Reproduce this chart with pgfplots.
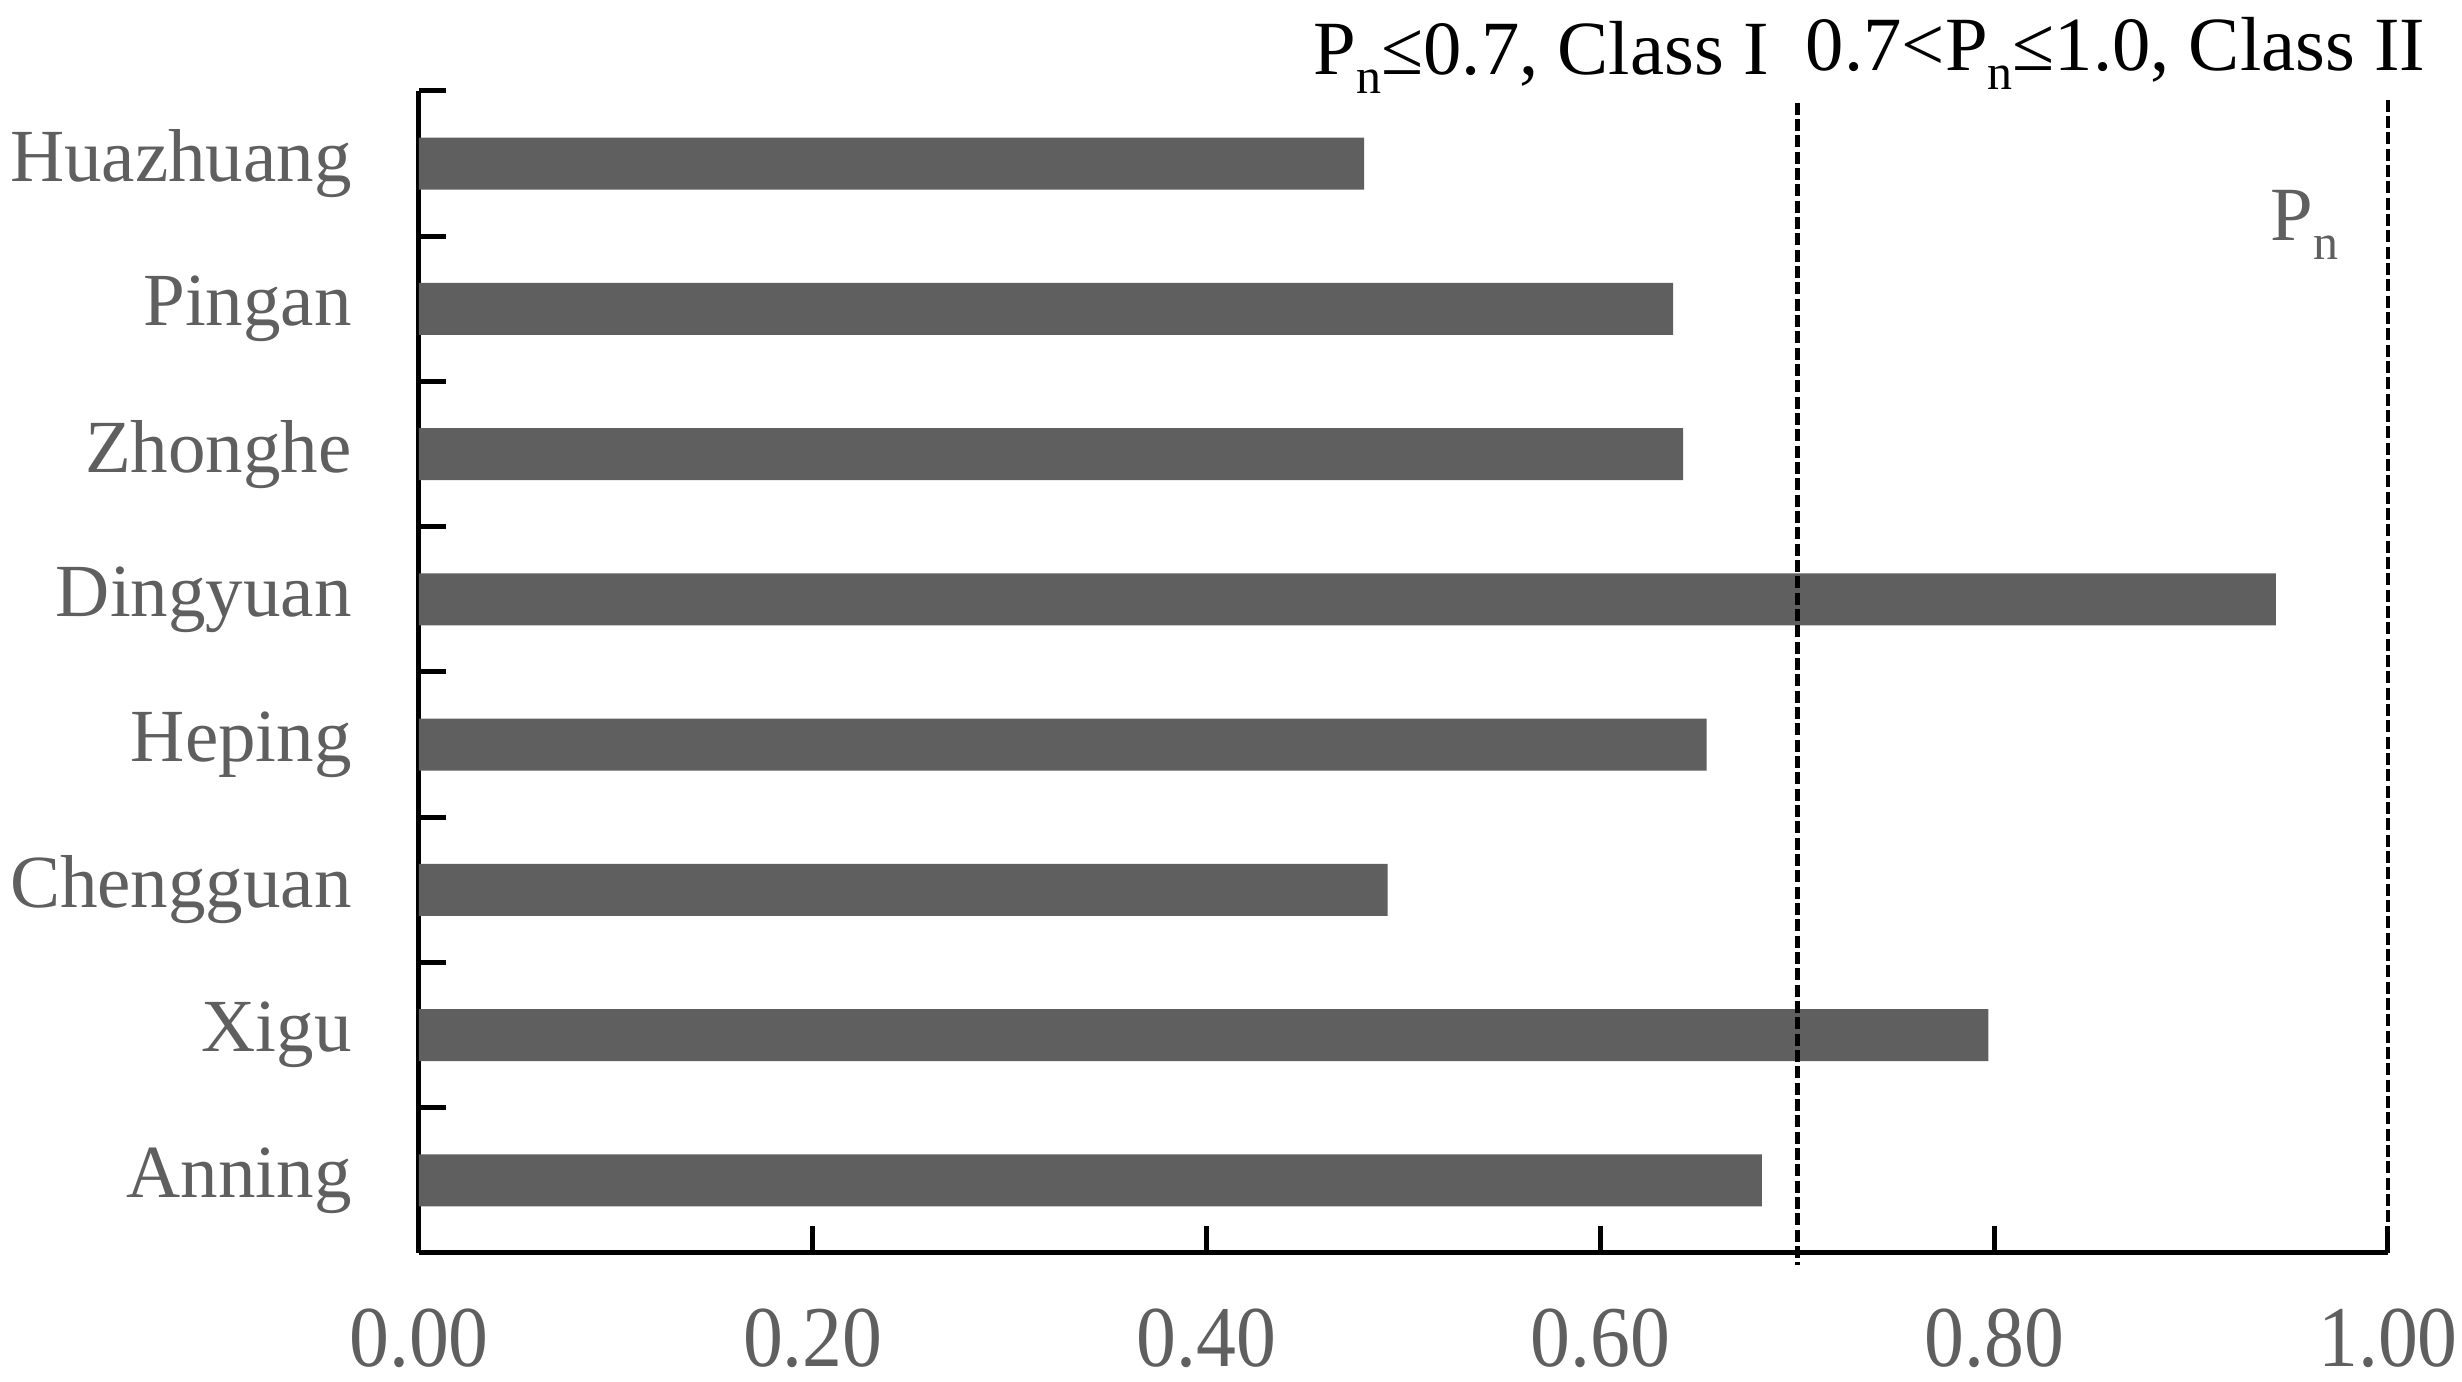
\documentclass[border=0pt]{standalone}
\usepackage{fontspec}
\setmainfont{Liberation Serif}
\newfontfamily\condfont{Liberation Serif}[FakeStretch=0.92]
\usepackage{pgfplots}
\pgfplotsset{compat=1.18}
\definecolor{bargray}{HTML}{5F5F5F}
\definecolor{labgray}{HTML}{5F5F5F}
\newcommand{\sub}[1]{\raisebox{-5.7pt}{\fontsize{15}{17}\selectfont #1}}
\begin{document}
\begin{tikzpicture}
\begin{axis}[
  scale only axis,
  width=590.7pt, height=348.6pt,
  xmin=0, xmax=1.0, ymin=0.5, ymax=8.5,
  axis x line*=bottom, axis y line*=left,
  axis line style={line width=1.5pt, black},
  xbar, bar width=15.6pt,
  xtick={0,0.2,0.4,0.6,0.8,1.0},
  xticklabels={0.00,0.20,0.40,0.60,0.80,1.00},
  xticklabel style={font=\condfont\fontsize{26}{30}\selectfont, text=labgray, inner sep=0pt, yshift=-16.5pt},
  ytick={1,...,8},
  yticklabels={Anning,Xigu,Chengguan,Heping,Dingyuan,Zhonghe,Pingan,Huazhuang},
  yticklabel style={font=\fontsize{22.5}{27}\selectfont, text=labgray, inner sep=0pt, xshift=-20pt},
  minor ytick={0.5,1.5,...,8.5},
  tick align=inside,
  major tick length=8pt,
  minor tick length=8pt,
  tick style={line width=1.5pt, black},
  major y tick style={draw=none},
  minor y tick style={draw=black, line width=1.5pt},
  clip=false,
]
\path (rel axis cs:-0.2128,-0.111) rectangle (rel axis cs:1.0376,1.0783);
\addplot[fill=bargray, draw=none] coordinates {
  (0.682,1) (0.797,2) (0.492,3) (0.654,4) (0.943,5) (0.642,6) (0.637,7) (0.480,8)
};
\draw[black, line width=1.4pt, dash pattern=on 3.6pt off 1.3pt] (axis cs:0.7,8.42) -- (axis cs:0.7,0.42);
\draw[black, line width=1.4pt, dash pattern=on 3.6pt off 1.3pt] (axis cs:1.0,8.44) -- (axis cs:1.0,0.5);
\node[anchor=base east, inner sep=0pt, font=\fontsize{23}{28}\selectfont] at ([xshift=-8.4pt, yshift=4.8pt]axis cs:0.7,8.5) {P\sub{n}≤0.7, Class I};
\node[anchor=base west, inner sep=0pt, font=\fontsize{23}{28}\selectfont] at ([xshift=2.4pt, yshift=6pt]axis cs:0.7,8.5) {0.7<P\sub{n}≤1.0, Class II};
\node[anchor=base west, inner sep=0pt, text=labgray, font=\fontsize{23}{28}\selectfont] at (axis cs:0.94,7.47) {P\sub{n}};
\end{axis}
\end{tikzpicture}
\end{document}
